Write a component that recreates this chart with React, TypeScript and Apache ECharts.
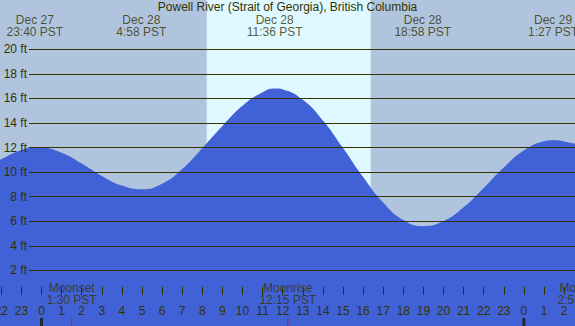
import React, { useEffect, useRef } from "react";
import * as echarts from "echarts";

const TITLE = "Powell River (Strait of Georgia), British Columbia";

// Tide heights (ft) at hours relative to Dec 28 00:00 PST
const tideHours = [-3, -2, -1, -0.27, 0, 1, 2, 3, 4, 5, 6, 7, 8, 9, 10, 11, 11.64, 12, 13, 14, 15, 16, 17, 18, 19, 20, 21, 22, 23, 24, 25, 25.46, 26, 27];
const tideFeet = [10.1, 11.05, 11.8, 12.05, 12.03, 11.58, 10.7, 9.69, 8.9, 8.6, 9.05, 10.25, 11.95, 13.75, 15.4, 16.5, 16.8, 16.73, 15.88, 14.2, 11.96, 9.6, 7.53, 6.1, 5.6, 6.01, 7.13, 8.71, 10.38, 11.75, 12.51, 12.6, 12.5, 12.1];

// High / low tide annotations
const extremeHours = [-0.333, 4.967, 11.6, 18.967, 25.45];
const extremeDates = ["Dec 27", "Dec 28", "Dec 28", "Dec 28", "Dec 29"];
const extremeTimes = ["23:40 PST", "4:58 PST", "11:36 PST", "18:58 PST", "1:27 PST"];

// Daylight
const sunriseHour = 8.22;
const sunsetHour = 16.38;

// Horizontal reference lines (ft)
const gridFeet = [2, 4, 6, 8, 10, 12, 14, 16, 18, 20];

// Midnights and moon events
const midnightHours = [0, 24];
const moonHours = [1.5, 12.25, 26.917];
const moonNames = ["Moonset", "Moonrise", "Moonset"];
const moonTimes = ["1:30 PST", "12:15 PST", "2:55 PST"];

// Axis ranges
const hourMin = -3;
const hourMax = 27;
const feetMin = -2.53;
const feetMax = 24.01;

const TEXT = "#333300";
const FONT = "'Liberation Sans', Arial, sans-serif";

export default function App() {
  const ref = useRef<HTMLDivElement>(null);

  useEffect(() => {
    document.body.style.margin = "0";
    if (!ref.current) return;
    const chart = echarts.init(ref.current, undefined, { renderer: "svg" });
    const option: any = {
      animation: false,
      backgroundColor: "#b0c4de",
      textStyle: { fontFamily: FONT },
      title: {
        text: TITLE,
        left: "center",
        top: 1,
        padding: 0,
        textStyle: { fontSize: 12, fontWeight: "normal", color: TEXT, fontFamily: FONT, lineHeight: 12 },
      },
      grid: [
        { left: -18.8, right: -9.2, top: 0, bottom: 0, containLabel: false, outerBoundsMode: "none" },
        { left: 29, right: 0, top: 0, bottom: 0, containLabel: false, outerBoundsMode: "none" },
      ],
      xAxis: [
        {
          type: "value",
          gridIndex: 0,
          min: hourMin,
          max: hourMax,
          interval: 1,
          z: 10,
          axisLine: { show: false },
          splitLine: { show: false },
          axisTick: { show: true, inside: true, length: 8, lineStyle: { color: TEXT, width: 1 } },
          axisLabel: {
            inside: true,
            margin: 9,
            color: TEXT,
            fontSize: 12,
            fontFamily: FONT,
            showMinLabel: true,
            showMaxLabel: true,
            hideOverlap: false,
            formatter: (v: number) => String(((Math.round(v) % 24) + 24) % 24),
          },
        },
        { type: "value", gridIndex: 1, min: 0, max: 1, show: false },
      ],
      yAxis: [
        { type: "value", gridIndex: 0, min: feetMin, max: feetMax, show: false },
        { type: "value", gridIndex: 1, min: feetMin, max: feetMax, show: false },
      ],
      series: [
        {
          name: "daylight",
          type: "line",
          xAxisIndex: 0,
          yAxisIndex: 0,
          data: [],
          z: 1,
          markArea: {
            silent: true,
            itemStyle: { color: "#e0f8ff" },
            data: [[{ xAxis: sunriseHour }, { xAxis: sunsetHour }]],
          },
        },
        {
          name: "tide",
          type: "line",
          xAxisIndex: 0,
          yAxisIndex: 0,
          z: 2,
          smooth: 0.5,
          symbol: "none",
          lineStyle: { width: 0 },
          areaStyle: { color: "#4161d7", opacity: 1, origin: "start" },
          data: tideHours.map((h, i) => [h, tideFeet[i]]),
        },
        {
          name: "gridlines",
          type: "line",
          xAxisIndex: 1,
          yAxisIndex: 1,
          data: [],
          z: 3,
          markLine: {
            silent: true,
            symbol: ["none", "none"],
            lineStyle: { color: TEXT, width: 1, type: "solid" },
            label: {
              show: true,
              position: "start",
              distance: 2,
              color: TEXT,
              fontSize: 12,
              fontFamily: FONT,
              formatter: (p: any) => `${p.value} ft`,
            },
            data: gridFeet.map((v) => ({ yAxis: v })),
          },
        },
        {
          name: "midnight",
          type: "scatter",
          xAxisIndex: 0,
          yAxisIndex: 0,
          z: 11,
          clip: false,
          symbol: "rect",
          symbolSize: [3, 8],
          symbolOffset: [0, -4],
          itemStyle: { color: "#1a1a00" },
          data: midnightHours.map((h) => [h, feetMin]),
        },
        {
          name: "moon",
          type: "scatter",
          xAxisIndex: 0,
          yAxisIndex: 0,
          z: 11,
          clip: false,
          symbol: "rect",
          symbolSize: [1, 8],
          symbolOffset: [0, -4],
          itemStyle: { color: "#ff0000" },
          label: {
            show: true,
            position: "top",
            distance: 12,
            color: TEXT,
            fontSize: 12,
            lineHeight: 12,
            fontFamily: FONT,
            align: "center",
            formatter: (p: any) => `${moonNames[p.dataIndex]}\n${moonTimes[p.dataIndex]}`,
          },
          data: moonHours.map((h) => [h, feetMin]),
        },
        {
          name: "extremes",
          type: "scatter",
          xAxisIndex: 0,
          yAxisIndex: 0,
          z: 11,
          clip: false,
          symbolSize: 1,
          itemStyle: { color: "rgba(0,0,0,0)" },
          label: {
            show: true,
            position: "bottom",
            distance: 13,
            color: TEXT,
            fontSize: 12,
            lineHeight: 12,
            fontFamily: FONT,
            align: "center",
            formatter: (p: any) => `${extremeDates[p.dataIndex]}\n${extremeTimes[p.dataIndex]}`,
          },
          data: extremeHours.map((h) => [h, feetMax]),
        },
      ],
    };
    chart.setOption(option);
    return () => chart.dispose();
  }, []);

  return (
    <div
      ref={ref}
      style={{ position: "absolute", left: 0, top: 0, width: 575, height: 326 }}
    />
  );
}
